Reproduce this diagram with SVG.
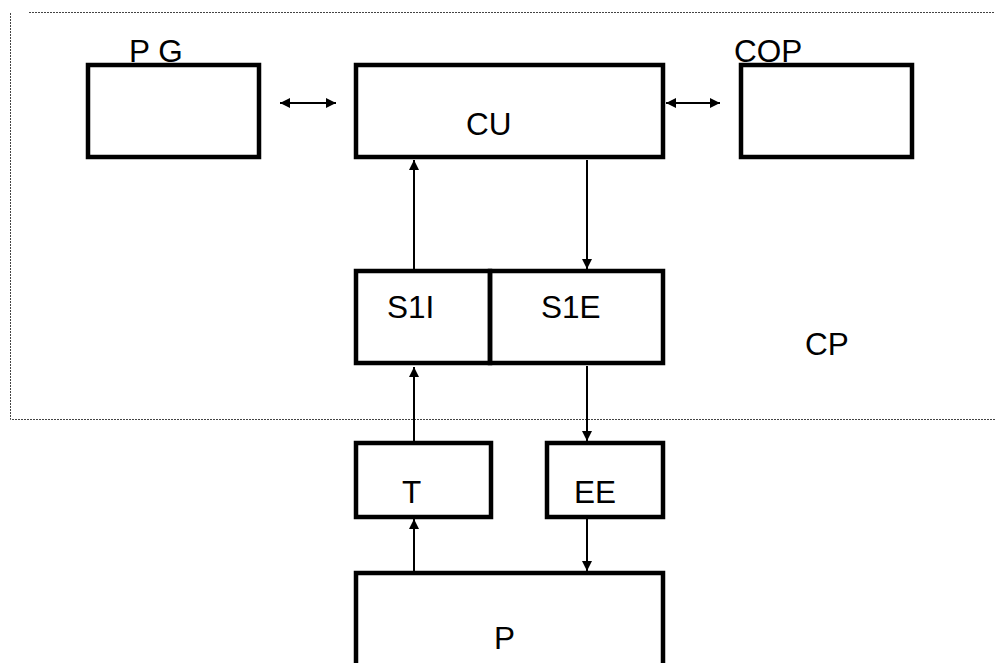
<svg xmlns="http://www.w3.org/2000/svg" width="995" height="663" viewBox="0 0 995 663">
  <style>
    .box { fill: none; stroke: #000; stroke-width: 4.5; }
    .lbl { font-family: "Liberation Sans", Arial, sans-serif; font-size: 31.5px; fill: #000; }
    .wire { fill: none; stroke: #000; stroke-width: 2; }
    .frame { fill: none; stroke: #444; stroke-width: 1; stroke-dasharray: 2 1; }
  </style>
  <defs>
    <marker id="head" viewBox="0 0 10 10" refX="10" refY="5" markerWidth="6" markerHeight="5" orient="auto-start-reverse" markerUnits="strokeWidth">
      <path d="M0,0 L10,5 L0,10 Z" fill="#000"/>
    </marker>
  </defs>

  <rect width="995" height="663" fill="#fff"/>

  <!-- CP boundary (dotted, open on the right) -->
  <g id="cp-frame">
    <path class="frame" d="M29,12.5 H995"/>
    <path class="frame" d="M10.5,13 V419.5 H995"/>
    <text class="lbl" x="805" y="355">CP</text>
  </g>

  <g id="pg">
    <rect class="box" x="88" y="65" width="171" height="92"/>
    <text class="lbl" x="129" y="62">P G</text>
  </g>

  <g id="cu">
    <rect class="box" x="356" y="65" width="307" height="92"/>
    <text class="lbl" x="466" y="135">CU</text>
  </g>

  <g id="cop">
    <rect class="box" x="741" y="65" width="171" height="92"/>
    <text class="lbl" x="734" y="62">COP</text>
  </g>

  <g id="s1i">
    <rect class="box" x="356" y="271" width="134" height="92"/>
    <text class="lbl" x="387" y="318">S1I</text>
  </g>

  <g id="s1e">
    <rect class="box" x="490" y="271" width="173" height="92"/>
    <text class="lbl" x="541" y="318">S1E</text>
  </g>

  <g id="t">
    <rect class="box" x="356" y="443" width="135" height="74"/>
    <text class="lbl" x="402" y="503">T</text>
  </g>

  <g id="ee">
    <rect class="box" x="547" y="443" width="116" height="74"/>
    <text class="lbl" x="574" y="503">EE</text>
  </g>

  <g id="p">
    <path class="box" d="M356,680 V573 H663 V680"/>
    <text class="lbl" x="494" y="649">P</text>
  </g>

  <g id="connectors">
    <line class="wire" x1="280" y1="103" x2="336" y2="103" marker-start="url(#head)" marker-end="url(#head)"/>
    <line class="wire" x1="666" y1="103" x2="720" y2="103" marker-start="url(#head)" marker-end="url(#head)"/>
    <line class="wire" x1="414" y1="269" x2="414" y2="160" marker-end="url(#head)"/>
    <line class="wire" x1="587" y1="160" x2="587" y2="269" marker-end="url(#head)"/>
    <line class="wire" x1="414" y1="441" x2="414" y2="367" marker-end="url(#head)"/>
    <line class="wire" x1="587" y1="366" x2="587" y2="441" marker-end="url(#head)"/>
    <line class="wire" x1="414" y1="571" x2="414" y2="519" marker-end="url(#head)"/>
    <line class="wire" x1="587" y1="519" x2="587" y2="571" marker-end="url(#head)"/>
  </g>
</svg>
